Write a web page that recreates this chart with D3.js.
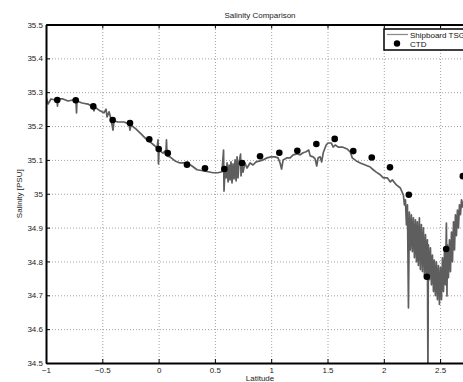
<!DOCTYPE html>
<html>
<head>
<meta charset="utf-8">
<script src="https://cdn.jsdelivr.net/npm/d3@7"></script>
<style>
  body { margin: 0; background: #fff; }
  svg { font-family: "Liberation Sans", Arial, sans-serif; }
  .grid line { stroke: #8a8a8a; stroke-dasharray: 1,2; stroke-width: 0.8; }
  .grid path { display: none; }
</style>
</head>
<body>
<div id="chart"></div>
<script>
// shipboard TSG trace, [latitude, salinity]
const tsgLat = [-1.000,-0.982,-0.956,-0.920,-0.902,-0.898,-0.893,-0.849,-0.805,-0.760,-0.734,-0.729,-0.725,-0.680,-0.627,-0.583,-0.574,-0.565,-0.521,-0.485,
  -0.467,-0.458,-0.440,-0.423,-0.405,-0.396,-0.360,-0.307,-0.263,-0.254,-0.245,-0.200,-0.156,-0.112,-0.076,-0.032,-0.014,-0.005,-0.001,0.004,
  0.039,0.066,0.070,0.075,0.101,0.146,0.190,0.252,0.297,0.341,0.394,0.439,0.483,0.528,0.563,0.577,0.581,0.590,0.599,0.608,
  0.617,0.626,0.634,0.643,0.652,0.661,0.670,0.679,0.688,0.697,0.705,0.714,0.728,0.732,0.741,0.750,0.767,0.785,0.812,0.839,
  0.865,0.901,0.927,0.963,0.998,1.034,1.061,1.079,1.092,1.106,1.141,1.168,1.195,1.230,1.257,1.284,1.310,1.333,1.346,1.373,
  1.390,1.404,1.417,1.435,1.448,1.462,1.488,1.506,1.533,1.551,1.568,1.595,1.631,1.675,1.702,1.720,1.755,1.791,1.835,1.880,
  1.898,1.933,1.969,1.996,2.031,2.058,2.076,2.112,2.147,2.174,2.183,2.192,2.201,2.210,2.219,2.227,2.236,2.245,2.254,2.263,
  2.272,2.281,2.290,2.298,2.307,2.316,2.325,2.334,2.343,2.352,2.361,2.370,2.379,2.387,2.392,2.396,2.405,2.414,2.423,2.432,
  2.441,2.449,2.458,2.467,2.476,2.485,2.494,2.503,2.512,2.521,2.530,2.539,2.547,2.556,2.561,2.565,2.574,2.583,2.592,2.601,
  2.610,2.619,2.628,2.636,2.645,2.654,2.663,2.672,2.681,2.690,2.698,2.716,2.752];
const tsgSal = [35.286,35.265,35.280,35.277,35.280,35.259,35.280,35.280,35.274,35.277,35.277,35.239,35.274,35.268,35.265,35.256,35.245,35.256,35.245,35.239,
  35.250,35.227,35.242,35.221,35.188,35.215,35.212,35.212,35.206,35.188,35.203,35.191,35.177,35.162,35.153,35.141,35.135,35.159,35.088,35.129,
  35.120,35.129,35.159,35.112,35.109,35.097,35.091,35.091,35.082,35.071,35.068,35.065,35.062,35.062,35.065,35.129,35.008,35.077,35.047,35.091,
  35.035,35.085,35.041,35.094,35.032,35.088,35.044,35.100,35.038,35.109,35.047,35.091,35.117,35.053,35.085,35.064,35.091,35.076,35.091,35.085,
  35.094,35.097,35.100,35.106,35.109,35.109,35.106,35.091,35.073,35.100,35.106,35.106,35.115,35.118,35.115,35.121,35.124,35.129,35.112,35.109,
  35.103,35.082,35.106,35.109,35.094,35.121,35.144,35.150,35.150,35.138,35.144,35.138,35.138,35.132,35.124,35.106,35.097,35.091,35.085,35.079,
  35.073,35.064,35.056,35.047,35.047,35.035,35.041,35.026,35.017,34.996,34.967,34.982,34.908,34.967,34.663,34.946,34.834,34.938,34.829,34.929,
  34.811,34.923,34.799,34.917,34.788,34.929,34.776,34.909,34.770,34.899,34.759,34.879,34.752,34.864,34.450,34.849,34.746,34.840,34.731,34.819,
  34.711,34.804,34.699,34.799,34.687,34.788,34.673,34.782,34.687,34.811,34.711,34.829,34.731,34.913,34.698,34.849,34.752,34.864,34.770,34.887,
  34.799,34.917,34.834,34.938,34.876,34.952,34.899,34.967,34.938,34.982,34.961,34.990,35.005];

// CTD station values
const ctdLat = [-0.900,-0.736,-0.580,-0.408,-0.254,-0.083,0.001,0.081,0.252,0.412,0.584,0.741,0.901,1.072,1.232,1.401,1.564,1.729,1.893,2.055,2.222,2.382,2.554,2.702];
const ctdSal = [35.277,35.276,35.258,35.218,35.209,35.161,35.132,35.120,35.086,35.075,35.073,35.091,35.111,35.121,35.127,35.147,35.162,35.126,35.107,35.078,34.997,34.755,34.837,35.052];

const xTicks = [-1, -0.5, 0, 0.5, 1, 1.5, 2, 2.5];
const yTicks = [34.5, 34.6, 34.7, 34.8, 34.9, 35, 35.1, 35.2, 35.3, 35.4, 35.5];
const xTickLabels = ['\u22121', '\u22120.5', '0', '0.5', '1', '1.5', '2', '2.5'];

const width = 463, height = 382;
const mLeft = 46, mTop = 24.5, mBottom = 363;
const mRight = mLeft + 3.8 * 112.6;   // axes run past the window edge

const svg = d3.select('#chart').append('svg')
  .attr('width', width).attr('height', height);

const x = d3.scaleLinear().domain([-1, 2.8]).range([mLeft, mRight]);
const y = d3.scaleLinear().domain([34.5, 35.5]).range([mBottom, mTop]);

// grid lines
svg.append('g').attr('class', 'grid')
  .attr('transform', `translate(0,${mBottom})`)
  .call(d3.axisBottom(x).tickValues(xTicks.slice(1)).tickSize(-(mBottom - mTop)).tickFormat(''));
svg.append('g').attr('class', 'grid')
  .attr('transform', `translate(${mLeft},0)`)
  .call(d3.axisLeft(y).tickValues(yTicks.slice(1, -1)).tickSize(-(mRight - mLeft)).tickFormat(''));

svg.append('clipPath').attr('id', 'clip')
  .append('rect').attr('x', mLeft).attr('y', mTop).attr('width', mRight - mLeft).attr('height', mBottom - mTop);

const tsg = tsgLat.map((d, i) => [d, tsgSal[i]]);
svg.append('path')
  .datum(tsg)
  .attr('clip-path', 'url(#clip)')
  .attr('fill', 'none')
  .attr('stroke', '#5e5e5e')
  .attr('stroke-width', 1.7)
  .attr('stroke-linejoin', 'round')
  .attr('d', d3.line().x(d => x(d[0])).y(d => y(d[1])));

svg.append('g').selectAll('circle')
  .data(ctdLat.map((d, i) => [d, ctdSal[i]]))
  .join('circle')
  .attr('cx', d => x(d[0]))
  .attr('cy', d => y(d[1]))
  .attr('r', 3.3)
  .attr('fill', '#000');

// axes: ticks drawn inward, matlab style
const xAxis = svg.append('g')
  .attr('transform', `translate(0,${mBottom})`)
  .call(d3.axisBottom(x).tickValues(xTicks).tickSizeInner(-4).tickSizeOuter(0).tickPadding(6)
    .tickFormat((d, i) => xTickLabels[i]));
const xTop = svg.append('g')
  .attr('transform', `translate(0,${mTop})`)
  .call(d3.axisTop(x).tickValues(xTicks).tickSizeInner(-4).tickSizeOuter(0).tickFormat(''));
const yAxis = svg.append('g')
  .attr('transform', `translate(${mLeft},0)`)
  .call(d3.axisLeft(y).tickValues(yTicks).tickSizeInner(-4).tickSizeOuter(0).tickPadding(3)
    .tickFormat(d3.format('')));

[xAxis, xTop, yAxis].forEach(g => {
  g.select('.domain').attr('stroke', '#000').attr('stroke-width', 2);
  g.selectAll('.tick line').attr('stroke', '#000').attr('stroke-width', 1);
  g.selectAll('text').attr('font-size', 8).attr('fill', '#222')
    .attr('font-family', '"Liberation Sans", Arial, sans-serif');
});
xAxis.selectAll('text').attr('dy', '0.55em');

svg.append('text')
  .attr('x', 260).attr('y', 18)
  .attr('text-anchor', 'middle').attr('font-size', 8).attr('fill', '#222')
  .text('Salinity Comparison');

svg.append('text')
  .attr('x', 260).attr('y', 381)
  .attr('text-anchor', 'middle').attr('font-size', 8).attr('fill', '#222')
  .text('Latitude');

svg.append('text')
  .attr('transform', `translate(22,${(mTop + mBottom) / 2}) rotate(-90)`)
  .attr('text-anchor', 'middle').attr('font-size', 8).attr('fill', '#222')
  .text('Salinity [PSU]');

// legend
const legend = svg.append('g');
legend.append('rect')
  .attr('x', 384).attr('y', 29).attr('width', 90).attr('height', 21)
  .attr('fill', '#fff').attr('stroke', '#000').attr('stroke-width', 1.5);
legend.append('line')
  .attr('x1', 387).attr('x2', 408).attr('y1', 34.5).attr('y2', 34.5)
  .attr('stroke', '#888').attr('stroke-width', 1.2);
legend.append('circle')
  .attr('cx', 397).attr('cy', 43.5).attr('r', 3.2).attr('fill', '#000');
legend.append('text')
  .attr('x', 410).attr('y', 37.5).attr('font-size', 8).attr('fill', '#111')
  .text('Shipboard TSG');
legend.append('text')
  .attr('x', 410).attr('y', 46.5).attr('font-size', 8).attr('fill', '#111')
  .text('CTD');
</script>
</body>
</html>
